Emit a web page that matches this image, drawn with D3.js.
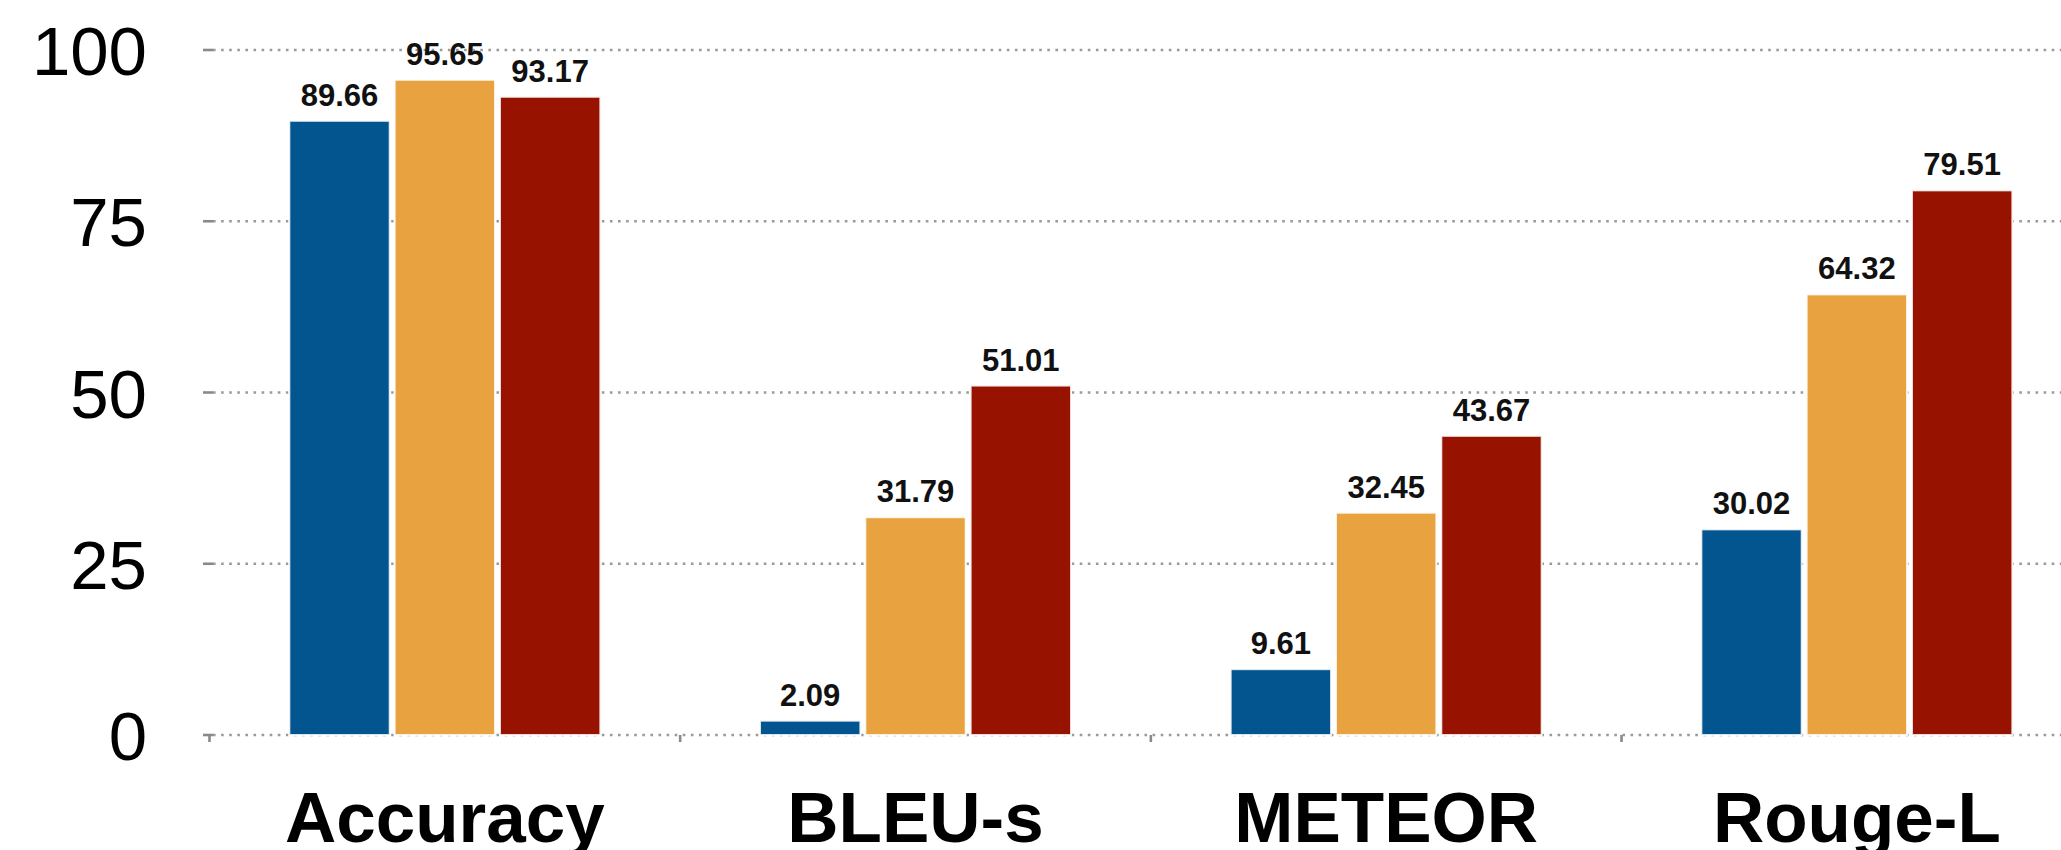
<!DOCTYPE html>
<html>
<head>
<meta charset="utf-8">
<script src="https://cdn.jsdelivr.net/npm/d3@7"></script>
<style>
  html, body { margin: 0; padding: 0; background: #ffffff; overflow: hidden; }
  svg { display: block; }
</style>
</head>
<body>
<svg id="chart" width="2061" height="850"></svg>
<script>
const categories = ["Accuracy", "BLEU-s", "METEOR", "Rouge-L"];
const seriesNames = ["Model A", "Model B", "Model C"];
const seriesA = [89.66, 2.09, 9.61, 30.02];
const seriesB = [95.65, 31.79, 32.45, 64.32];
const seriesC = [93.17, 51.01, 43.67, 79.51];
const yTicks = [0, 25, 50, 75, 100];
const colors = ["#02558f", "#e8a23f", "#981200"];

const allSeries = [seriesA, seriesB, seriesC];
const svg = d3.select("#chart");

const x0 = 209.5, step = 470.67;
const x = d3.scaleBand().domain(categories).range([x0, x0 + step * categories.length]).padding(0);
const xi = d3.scaleBand().domain(d3.range(seriesNames.length)).range([-155.5, 155.5]).paddingInner(0.047).paddingOuter(0);
const y = d3.scaleLinear().domain([0, 100]).range([735, 50]);

// gridlines
svg.append("g").selectAll("line").data(yTicks).join("line")
  .attr("x1", 213).attr("x2", 2061)
  .attr("y1", d => y(d)).attr("y2", d => y(d))
  .attr("stroke", "#9a9a9a").attr("stroke-width", 2.6)
  .attr("stroke-dasharray", "2.6,5.5");

// y ticks (short solid)
svg.append("g").selectAll("line").data(yTicks).join("line")
  .attr("x1", 203).attr("x2", 213)
  .attr("y1", d => y(d)).attr("y2", d => y(d))
  .attr("stroke", "#8a8a8a").attr("stroke-width", 2.6);

// y tick labels
svg.append("g").selectAll("text").data(yTicks).join("text")
  .attr("x", 147).attr("y", d => y(d) + 25)
  .attr("text-anchor", "end")
  .attr("font-family", "'Liberation Sans', Arial, sans-serif")
  .attr("font-size", 69)
  .attr("fill", "#000")
  .text(d => d);

// bars
const groups = svg.append("g").selectAll("g").data(categories).join("g")
  .attr("transform", d => `translate(${x(d) + x.bandwidth() / 2},0)`);

groups.selectAll("rect").data((c, ci) => allSeries.map((s, si) => ({ si, v: s[ci] }))).join("rect")
  .attr("x", d => xi(d.si))
  .attr("width", xi.bandwidth())
  .attr("y", d => y(d.v))
  .attr("height", d => y(0) - y(d.v))
  .attr("fill", d => colors[d.si])
  .attr("stroke", "#ffffff").attr("stroke-opacity", 0.85).attr("stroke-width", 2);

groups.selectAll("text").data((c, ci) => allSeries.map((s, si) => ({ si, v: s[ci] }))).join("text")
  .attr("x", d => xi(d.si) + xi.bandwidth() / 2)
  .attr("y", d => y(d.v) - 15)
  .attr("text-anchor", "middle")
  .attr("font-family", "'Liberation Sans', Arial, sans-serif")
  .attr("font-weight", "bold")
  .attr("font-size", 31)
  .attr("fill", "#111")
  .text(d => d.v.toFixed(2));

// x ticks at band boundaries
const bounds = categories.map(c => x(c));
svg.append("g").selectAll("line").data(bounds).join("line")
  .attr("x1", d => d).attr("x2", d => d)
  .attr("y1", y(0)).attr("y2", y(0) + 7)
  .attr("stroke", "#8a8a8a").attr("stroke-width", 2.6);

// category labels
svg.append("g").selectAll("text").data(categories).join("text")
  .attr("x", d => x(d) + x.bandwidth() / 2)
  .attr("y", 842)
  .attr("text-anchor", "middle")
  .attr("font-family", "'Liberation Sans', Arial, sans-serif")
  .attr("font-weight", "bold")
  .attr("font-size", 71)
  .attr("fill", "#000")
  .text(d => d);
</script>
</body>
</html>
